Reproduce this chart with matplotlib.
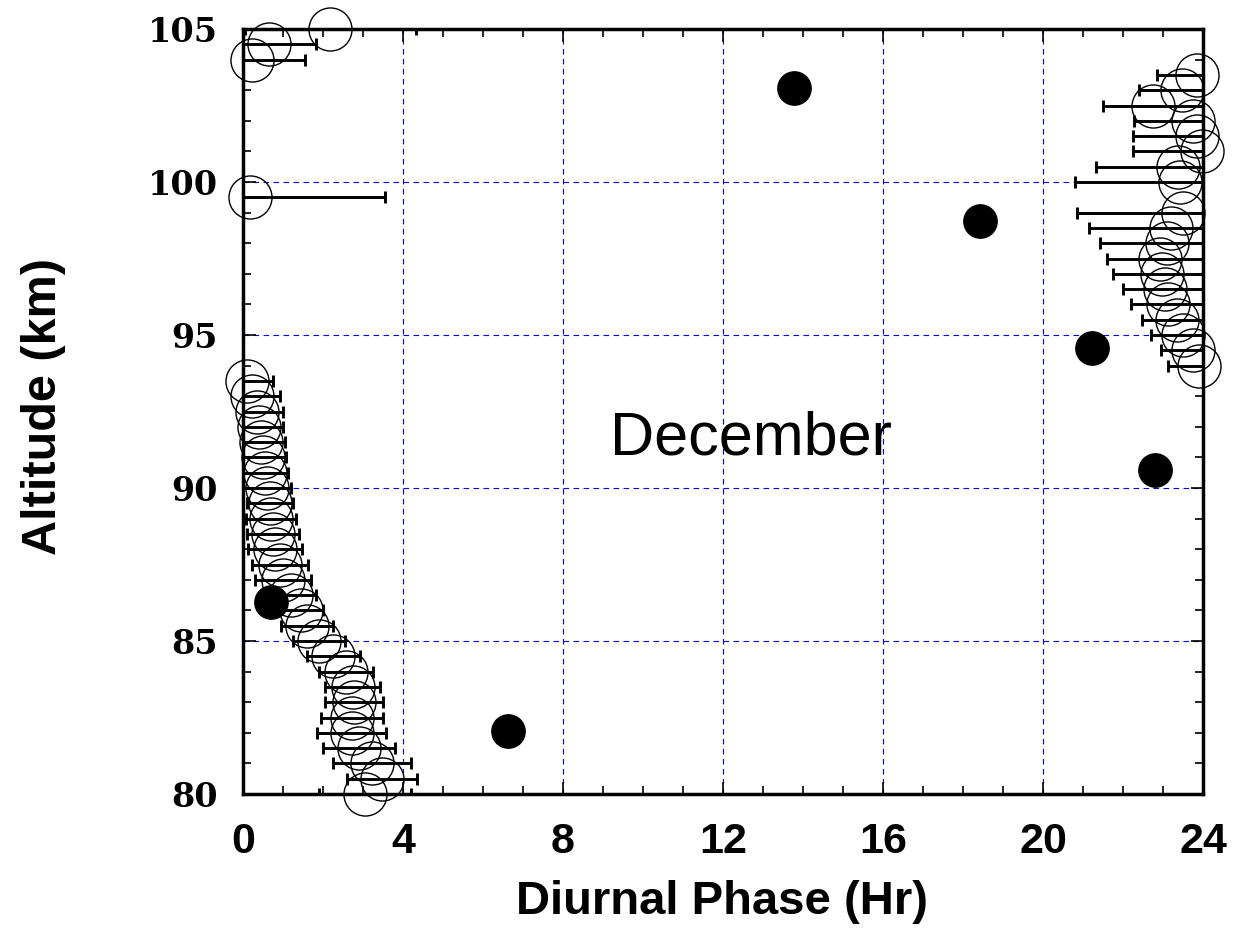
"""
Diurnal phase vs altitude, December
"""

import numpy as np
import matplotlib
matplotlib.use('Agg')
import matplotlib.pyplot as plt
from matplotlib.ticker import MultipleLocator

# open circles: altitude (km), phase (hr), phase error (hr)
altitude = [80.0, 80.5, 81.0, 81.5, 82.0, 82.5, 83.0, 83.5, 84.0, 84.5,
            85.0, 85.5, 86.0, 86.5, 87.0, 87.5, 88.0, 88.5, 89.0, 89.5,
            90.0, 90.5, 91.0, 91.5, 92.0, 92.5, 93.0, 93.5, 94.0, 94.5,
            95.0, 95.5, 96.0, 96.5, 97.0, 97.5, 98.0, 98.5, 99.0, 99.5,
            100.0, 100.5, 101.0, 101.5, 102.0, 102.5, 103.0, 103.5, 104.0, 104.5,
            105.0]
phase = [3.05, 3.47, 3.23, 2.9, 2.72, 2.72, 2.78, 2.74, 2.58, 2.26,
         1.91, 1.59, 1.46, 1.2, 1.0, 0.92, 0.8, 0.75, 0.7, 0.675,
         0.6, 0.55, 0.5, 0.45, 0.4, 0.35, 0.22, 0.1, 23.89, 23.76,
         23.5, 23.34, 23.13, 23.05, 22.97, 22.93, 23.1, 23.2, 23.5, 0.18,
         23.43, 23.38, 23.97, 23.84, 23.76, 22.76, 23.47, 23.84, 0.22, 0.66,
         2.18]
phase_err = [1.15, 0.88, 0.97, 0.91, 0.86, 0.78, 0.73, 0.69, 0.67, 0.67,
             0.65, 0.65, 0.53, 0.62, 0.69, 0.7, 0.67, 0.65, 0.62, 0.58,
             0.6, 0.57, 0.58, 0.6, 0.6, 0.65, 0.7, 0.66, 0.77, 0.81,
             0.81, 0.87, 0.93, 1.06, 1.23, 1.32, 1.67, 2.05, 2.64, 3.37,
             2.63, 2.06, 1.71, 1.6, 1.48, 1.27, 1.06, 1.0, 1.34, 1.17,
             2.14]

# filled circles
filled_phase = [13.78, 18.43, 21.23, 22.8, 0.7, 6.63]
filled_alt = [103.07, 98.73, 94.58, 90.59, 86.27, 82.06]

fig = plt.figure(figsize=(12.34, 9.3), dpi=100)
ax = fig.add_axes([243 / 1234, 1 - 794 / 930, 960 / 1234, 765 / 930])

ax.set_xlim(0, 24)
ax.set_ylim(80, 105)

ax.errorbar(phase, altitude, xerr=phase_err, fmt='none', ecolor='black',
            elinewidth=2.1, capsize=4.2, capthick=2.1, zorder=3)
ax.plot(phase, altitude, 'o', mfc='none', mec='black', ms=31, mew=1.0,
        clip_on=False, zorder=4)
ax.plot(filled_phase, filled_alt, 'o', color='black', ms=24, clip_on=False, zorder=5)

ax.text(12.7, 91.6, 'December', fontsize=44, family='Liberation Sans',
        ha='center', va='center')

ax.xaxis.set_major_locator(MultipleLocator(4))
ax.xaxis.set_minor_locator(MultipleLocator(1))
ax.yaxis.set_major_locator(MultipleLocator(5))
ax.yaxis.set_minor_locator(MultipleLocator(1))

ax.grid(True, which='major', color='#0000dd', linestyle=(0, (5, 4)), linewidth=0.8)
ax.set_axisbelow(True)

ax.tick_params(which='both', direction='in', top=True, right=True, width=1.2)
ax.tick_params(which='major', length=9)
ax.tick_params(which='minor', length=6)
ax.tick_params(axis='x', pad=20)
ax.tick_params(axis='y', pad=18)

for lab in ax.get_xticklabels():
    lab.set_fontfamily('Liberation Sans')
    lab.set_fontweight('bold')
    lab.set_fontsize(31)
for lab in ax.get_yticklabels():
    lab.set_fontfamily('DejaVu Serif')
    lab.set_fontweight('bold')
    lab.set_fontsize(24)

for sp in ax.spines.values():
    sp.set_linewidth(2.5)

ax.set_xlabel('Diurnal Phase (Hr)', fontsize=34, fontweight='bold', family='Liberation Sans')
ax.set_ylabel('Altitude (km)', fontsize=35, fontweight='bold', family='Liberation Sans')
ax.xaxis.set_label_coords(0.499, -0.113)
ax.yaxis.set_label_coords(-0.184, 0.506)

fig.savefig('out.png', dpi=100)
